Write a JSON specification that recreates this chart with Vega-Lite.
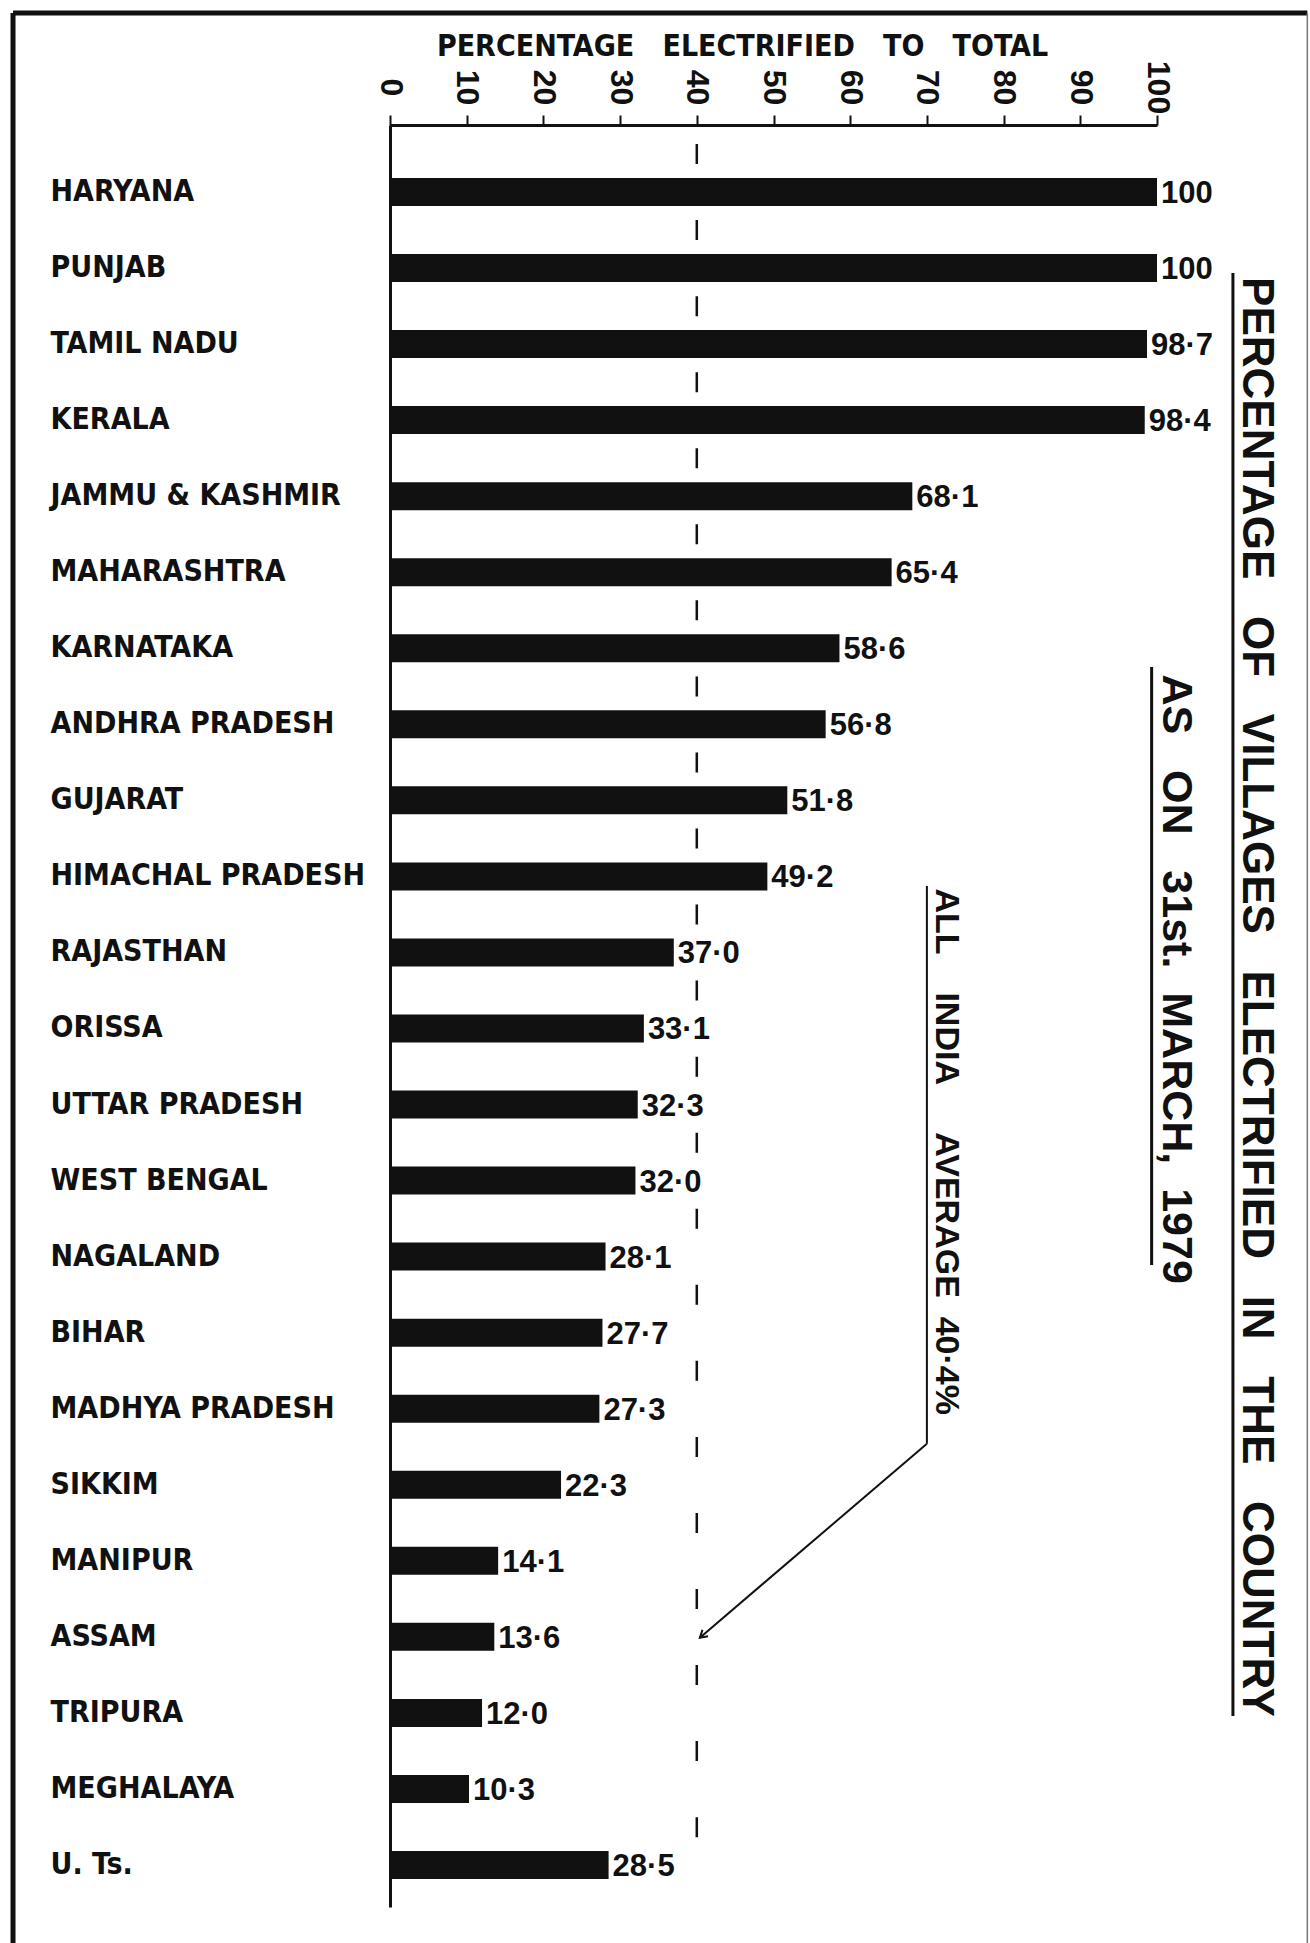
{
  "$schema": "https://vega.github.io/schema/vega-lite/v6.json",
  "width": 767,
  "height": 1782,
  "autosize": {"type": "none"},
  "padding": {"left": 390, "top": 125, "right": 153, "bottom": 36},
  "background": "white",
  "config": {"view": {"stroke": null}},
  "datasets": {
    "states": [
      {"state": "HARYANA", "value": 100, "label": "100"},
      {"state": "PUNJAB", "value": 100, "label": "100"},
      {"state": "TAMIL NADU", "value": 98.7, "label": "98·7"},
      {"state": "KERALA", "value": 98.4, "label": "98·4"},
      {"state": "JAMMU & KASHMIR", "value": 68.1, "label": "68·1"},
      {"state": "MAHARASHTRA", "value": 65.4, "label": "65·4"},
      {"state": "KARNATAKA", "value": 58.6, "label": "58·6"},
      {"state": "ANDHRA PRADESH", "value": 56.8, "label": "56·8"},
      {"state": "GUJARAT", "value": 51.8, "label": "51·8"},
      {"state": "HIMACHAL PRADESH", "value": 49.2, "label": "49·2"},
      {"state": "RAJASTHAN", "value": 37.0, "label": "37·0"},
      {"state": "ORISSA", "value": 33.1, "label": "33·1"},
      {"state": "UTTAR PRADESH", "value": 32.3, "label": "32·3"},
      {"state": "WEST BENGAL", "value": 32.0, "label": "32·0"},
      {"state": "NAGALAND", "value": 28.1, "label": "28·1"},
      {"state": "BIHAR", "value": 27.7, "label": "27·7"},
      {"state": "MADHYA PRADESH", "value": 27.3, "label": "27·3"},
      {"state": "SIKKIM", "value": 22.3, "label": "22·3"},
      {"state": "MANIPUR", "value": 14.1, "label": "14·1"},
      {"state": "ASSAM", "value": 13.6, "label": "13·6"},
      {"state": "TRIPURA", "value": 12.0, "label": "12·0"},
      {"state": "MEGHALAYA", "value": 10.3, "label": "10·3"},
      {"state": "U. Ts.", "value": 28.5, "label": "28·5"}
    ]
  },
  "layer": [
    {
      "data": {"name": "states"},
      "encoding": {
        "y": {
          "field": "state",
          "type": "nominal",
          "sort": null,
          "scale": {"paddingInner": 0.6318, "paddingOuter": 0.5326, "align": 0.654},
          "axis": {
            "title": null,
            "orient": "left",
            "ticks": false,
            "tickSize": 0,
            "domain": true,
            "domainColor": "#111",
            "domainWidth": 3,
            "grid": false,
            "labelAlign": "left",
            "labelBaseline": "middle",
            "labelPadding": 340,
            "labelLimit": 400,
            "labelFont": "'DejaVu Sans Condensed', 'Liberation Sans Narrow', sans-serif",
            "labelFontWeight": "bold",
            "labelFontSize": 30,
            "labelColor": "#111"
          }
        },
        "x": {
          "field": "value",
          "type": "quantitative",
          "scale": {"domain": [0, 100], "nice": false, "zero": true},
          "axis": {
            "orient": "top",
            "values": [0, 10, 20, 30, 40, 50, 60, 70, 80, 90, 100],
            "title": "PERCENTAGE\u00a0\u00a0\u00a0ELECTRIFIED\u00a0\u00a0\u00a0TO\u00a0\u00a0\u00a0TOTAL",
            "titleFont": "'DejaVu Sans Condensed', 'Liberation Sans Narrow', sans-serif",
            "titleFontWeight": "bold",
            "titleFontSize": 30,
            "titleColor": "#111",
            "titleX": 352,
            "titleY": -79,
            "titleAlign": "center",
            "titleBaseline": "middle",
            "titleAnchor": "start",
            "grid": false,
            "domain": true,
            "domainColor": "#111",
            "domainWidth": 3,
            "ticks": true,
            "tickColor": "#111",
            "tickWidth": 2,
            "tickSize": 10,
            "labels": true,
            "labelAngle": 90,
            "labelAlign": "center",
            "labelBaseline": "middle",
            "labelPadding": 28,
            "labelFlush": false,
            "labelOverlap": false,
            "labelFont": "'Liberation Sans', Arial, sans-serif",
            "labelFontWeight": "bold",
            "labelFontSize": 32,
            "labelColor": "#111"
          }
        }
      },
      "layer": [
        {"mark": {"type": "bar", "color": "#111"}},
        {
          "mark": {
            "type": "text",
            "align": "left",
            "baseline": "middle",
            "dx": 4,
            "dy": 2,
            "font": "'Liberation Sans', Arial, sans-serif",
            "fontWeight": "bold",
            "fontSize": 31,
            "color": "#111"
          },
          "encoding": {"text": {"field": "label", "type": "nominal"}}
        }
      ]
    },
    {
      "data": {"values": [{"note": "annotations"}]},
      "layer": [
        {
          "mark": {"type": "rule", "color": "#111", "strokeWidth": 5},
          "encoding": {
            "x": {"datum": -49.15, "type": "quantitative"},
            "y": {"datum": -2.354, "type": "quantitative", "scale": {"domain": [-0.881, 22.551], "reverse": true, "nice": false, "zero": false}, "axis": null},
            "y2": {"datum": 23.2}
          }
        },
        {
          "mark": {"type": "rule", "color": "#111", "strokeWidth": 5},
          "encoding": {
            "x": {"datum": -49.15, "type": "quantitative"},
            "x2": {"datum": 119.6},
            "y": {"datum": -2.354, "type": "quantitative", "scale": {"domain": [-0.881, 22.551], "reverse": true, "nice": false, "zero": false}, "axis": null}
          }
        },
        {
          "mark": {"type": "rule", "color": "#777", "strokeWidth": 1.5},
          "encoding": {
            "x": {"datum": 119.6, "type": "quantitative"},
            "y": {"datum": -2.354, "type": "quantitative", "scale": {"domain": [-0.881, 22.551], "reverse": true, "nice": false, "zero": false}, "axis": null},
            "y2": {"datum": 23.2}
          }
        },
        {
          "mark": {"type": "rule", "color": "#111", "strokeWidth": 2.5, "strokeDash": [20, 56.05], "strokeDashOffset": 57},
          "encoding": {
            "x": {"datum": 40, "type": "quantitative"},
            "y": {"datum": -0.881, "type": "quantitative", "scale": {"domain": [-0.881, 22.551], "reverse": true, "nice": false, "zero": false}, "axis": null},
            "y2": {"datum": 22.2}
          }
        },
        {
          "mark": {"type": "rule", "color": "#111", "strokeWidth": 2},
          "encoding": {
            "x": {"datum": 70, "type": "quantitative"},
            "y": {"datum": 9.126, "type": "quantitative", "scale": {"domain": [-0.881, 22.551], "reverse": true, "nice": false, "zero": false}, "axis": null},
            "y2": {"datum": 16.46}
          }
        },
        {
          "mark": {"type": "rule", "color": "#111", "strokeWidth": 2},
          "encoding": {
            "x": {"datum": 70, "type": "quantitative"},
            "x2": {"datum": 40.4},
            "y": {"datum": 16.46, "type": "quantitative", "scale": {"domain": [-0.881, 22.551], "reverse": true, "nice": false, "zero": false}, "axis": null},
            "y2": {"datum": 19.01}
          }
        },
        {
          "mark": {"type": "point", "shape": "M-0.6,-1L0,0L0.6,-1", "filled": false, "stroke": "#111", "strokeWidth": 2, "size": 200, "angle": 49.4, "opacity": 1},
          "encoding": {
            "x": {"datum": 40.4, "type": "quantitative"},
            "y": {"datum": 19.01, "type": "quantitative", "scale": {"domain": [-0.881, 22.551], "reverse": true, "nice": false, "zero": false}, "axis": null}
          }
        },
        {
          "mark": {"type": "rule", "color": "#111", "strokeWidth": 3},
          "encoding": {
            "x": {"datum": 109.9, "type": "quantitative"},
            "y": {"datum": 1.065, "type": "quantitative", "scale": {"domain": [-0.881, 22.551], "reverse": true, "nice": false, "zero": false}, "axis": null},
            "y2": {"datum": 20.04}
          }
        },
        {
          "mark": {"type": "rule", "color": "#111", "strokeWidth": 3},
          "encoding": {
            "x": {"datum": 99.3, "type": "quantitative"},
            "y": {"datum": 6.246, "type": "quantitative", "scale": {"domain": [-0.881, 22.551], "reverse": true, "nice": false, "zero": false}, "axis": null},
            "y2": {"datum": 14.11}
          }
        },
        {
          "mark": {"type": "text", "angle": 90, "align": "center", "baseline": "middle", "font": "'Liberation Sans', Arial, sans-serif", "fontWeight": "bold", "fontSize": 44, "color": "#111"},
          "encoding": {
            "x": {"datum": 112.9, "type": "quantitative"},
            "y": {"datum": 10.585, "type": "quantitative", "scale": {"domain": [-0.881, 22.551], "reverse": true, "nice": false, "zero": false}, "axis": null},
            "text": {"value": "PERCENTAGE\u00a0\u00a0\u00a0OF\u00a0\u00a0\u00a0VILLAGES\u00a0\u00a0\u00a0ELECTRIFIED\u00a0\u00a0\u00a0IN\u00a0\u00a0\u00a0THE\u00a0\u00a0\u00a0COUNTRY"}
          }
        },
        {
          "mark": {"type": "text", "angle": 90, "align": "center", "baseline": "middle", "font": "'Liberation Sans', Arial, sans-serif", "fontWeight": "bold", "fontSize": 43, "color": "#111"},
          "encoding": {
            "x": {"datum": 102.5, "type": "quantitative"},
            "y": {"datum": 10.35, "type": "quantitative", "scale": {"domain": [-0.881, 22.551], "reverse": true, "nice": false, "zero": false}, "axis": null},
            "text": {"value": "AS\u00a0\u00a0\u00a0ON\u00a0\u00a0\u00a031st.\u00a0\u00a0MARCH,\u00a0\u00a01979"}
          }
        },
        {
          "mark": {"type": "text", "angle": 90, "align": "center", "baseline": "middle", "font": "'Liberation Sans', Arial, sans-serif", "fontWeight": "bold", "fontSize": 34, "color": "#111"},
          "encoding": {
            "x": {"datum": 72.5, "type": "quantitative"},
            "y": {"datum": 12.62, "type": "quantitative", "scale": {"domain": [-0.881, 22.551], "reverse": true, "nice": false, "zero": false}, "axis": null},
            "text": {"value": "ALL\u00a0\u00a0\u00a0\u00a0INDIA\u00a0\u00a0\u00a0\u00a0\u00a0AVERAGE\u00a0\u00a040·4%"}
          }
        }
      ]
    }
  ],
  "resolve": {"scale": {"y": "independent"}, "axis": {"y": "independent"}}
}
